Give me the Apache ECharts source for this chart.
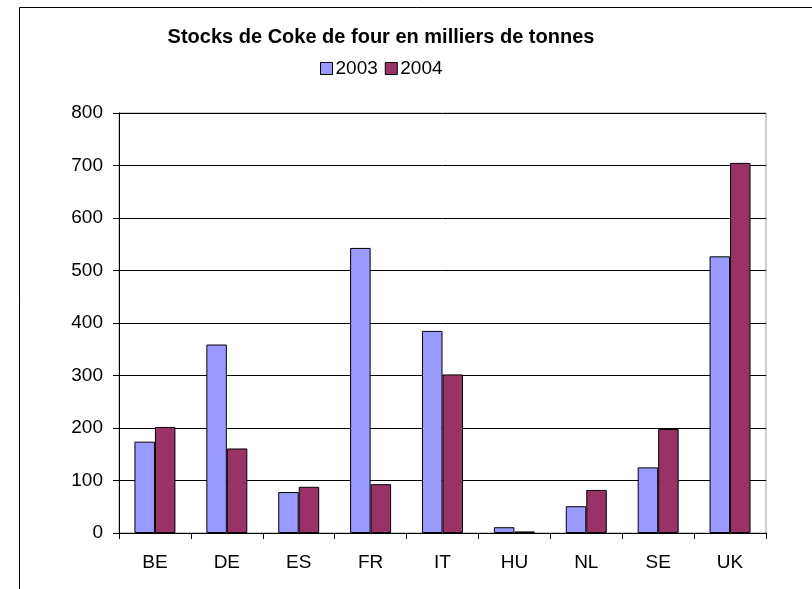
<!DOCTYPE html>
<html>
<head>
<meta charset="utf-8">
<script src="https://cdn.jsdelivr.net/npm/echarts@6/dist/echarts.min.js"></script>
<style>
html,body{margin:0;padding:0;background:#fff;}
#chart{width:812px;height:589px;}
</style>
</head>
<body>
<div id="chart"></div>
<script>
const categories = ['BE','DE','ES','FR','IT','HU','NL','SE','UK'];
const values2003 = [174, 359, 78, 543, 385, 11, 51, 125, 527];
const values2004 = [202, 161, 88, 93, 302, 3, 82, 198, 705];
const seriesNames = ['2003','2004'];
const titleText = 'Stocks de Coke de four en milliers de tonnes';

const chart = echarts.init(document.getElementById('chart'));
const font = 'Liberation Sans, Arial, sans-serif';
chart.setOption({
  animation: false,
  backgroundColor: '#fff',
  title: {
    text: titleText,
    left: 376, top: 22, textAlign: 'center',
    textStyle: {fontFamily: font, fontSize: 20, fontWeight: 'bold', color: '#000'}
  },
  legend: {
    data: seriesNames,
    left: 315, top: 54,
    itemWidth: 12, itemHeight: 12, itemGap: 7,
    icon: 'rect',
    textStyle: {fontFamily: font, fontSize: 19, color: '#000', padding: [0,0,0,-2]},
    itemStyle: {borderColor: '#000', borderWidth: 1}
  },
  graphic: [{
    type: 'rect', left: 17, top: 5, silent: true,
    shape: {width: 820, height: 620},
    style: {fill: 'none', stroke: '#000', lineWidth: 1}
  }],
  grid: {left: 119, right: 46, top: 113, bottom: 56, show: true, borderColor: '#999', borderWidth: 1},
  xAxis: {
    type: 'category', data: categories,
    axisLine: {lineStyle: {color: '#000'}},
    axisTick: {show: true, length: 6, lineStyle: {color: '#000'}},
    axisLabel: {fontFamily: font, fontSize: 19, color: '#000', margin: 20}
  },
  yAxis: {
    type: 'value', min: 0, max: 800, interval: 100,
    axisLine: {show: true, lineStyle: {color: '#000'}},
    axisTick: {show: true, length: 6, lineStyle: {color: '#000'}},
    axisLabel: {fontFamily: font, fontSize: 19, color: '#000', margin: 16},
    splitLine: {lineStyle: {color: '#000', width: 1}}
  },
  series: [
    {name: seriesNames[0], type: 'bar', data: values2003, barGap: '0%', barCategoryGap: '43%',
     itemStyle: {color: '#9999FF', borderColor: '#000', borderWidth: 1}},
    {name: seriesNames[1], type: 'bar', data: values2004, barGap: '0%', barCategoryGap: '43%',
     itemStyle: {color: '#993366', borderColor: '#000', borderWidth: 1}}
  ]
});
</script>
</body>
</html>
